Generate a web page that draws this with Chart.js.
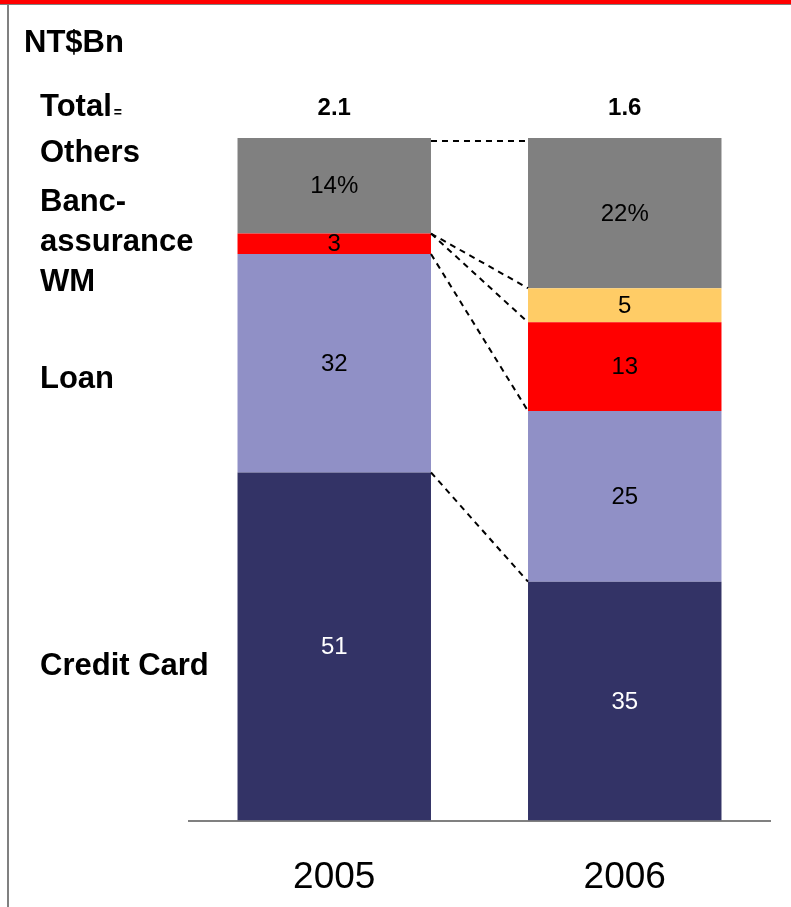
<!DOCTYPE html>
<html>
<head>
<meta charset="utf-8">
<script src="https://cdn.jsdelivr.net/npm/chart.js@4/dist/chart.umd.min.js"></script>
<style>
  html, body { margin: 0; padding: 0; background: #fff; }
  canvas { display: block; }
</style>
</head>
<body>
<canvas id="mChart1" width="791" height="907"></canvas>
<script>
// revenue mix, NT$Bn, shares in %
var years = ['2005', '2006'];
var totals = ['2.1', '1.6'];
var creditCard = [51, 35];
var loan = [32, 25];
var wm = [3, 13];
var bancassurance = [0, 5];
var others = [14, 22];

var font = '"Liberation Sans", Arial, sans-serif';

// frame, side captions and totals
var framePlugin = {
    id: 'frame',
    beforeDraw: function(chart) {
        var ctx = chart.ctx;
        ctx.save();
        ctx.fillStyle = '#ffffff';
        ctx.fillRect(0, 0, chart.width, chart.height);
        ctx.fillStyle = '#ff0000';
        ctx.fillRect(0, 0, chart.width, 4);
        ctx.fillStyle = '#808080';
        ctx.fillRect(0, 4, chart.width, 1);
        ctx.fillRect(7, 5, 2, chart.height - 5);
        ctx.restore();
    },
    afterDraw: function(chart) {
        var ctx = chart.ctx;
        ctx.save();
        ctx.fillStyle = '#000000';
        ctx.textAlign = 'left';
        ctx.textBaseline = 'alphabetic';
        ctx.font = 'bold 31px ' + font;
        ctx.fillText('NT$Bn', 24, 52);
        ctx.fillText('Total', 40, 116);
        var w = ctx.measureText('Total').width;
        ctx.fillText('Others', 40, 162);
        ctx.fillText('Banc-', 40, 211);
        ctx.fillText('assurance', 40, 251);
        ctx.fillText('WM', 40, 291);
        ctx.fillText('Loan', 40, 388);
        ctx.fillText('Credit Card', 40, 675);
        ctx.font = 'bold 14px ' + font;
        ctx.fillText('=', 42 + w, 117);

        // totals above each column
        var meta = chart.getDatasetMeta(0);
        ctx.font = 'bold 24px ' + font;
        ctx.textAlign = 'center';
        for (var i = 0; i < totals.length; i++) {
            ctx.fillText(totals[i], meta.data[i].x, 115);
        }
        ctx.restore();
    }
};

// dashed connectors between columns and the segment values
var segmentPlugin = {
    id: 'segments',
    afterDatasetsDraw: function(chart) {
        var ctx = chart.ctx;
        ctx.save();

        ctx.strokeStyle = '#000000';
        ctx.lineWidth = 2;
        ctx.setLineDash([6, 5]);
        chart.data.datasets.forEach(function(ds, i) {
            var bars = chart.getDatasetMeta(i).data;
            var a = bars[0], b = bars[1];
            ctx.beginPath();
            ctx.moveTo(a.x + a.width / 2, a.y + (i === 4 ? 3 : 0));
            ctx.lineTo(b.x - b.width / 2, b.y + (i === 4 ? 3 : 0));
            ctx.stroke();
        });
        ctx.setLineDash([]);

        ctx.font = '24px ' + font;
        ctx.textAlign = 'center';
        ctx.textBaseline = 'middle';
        chart.data.datasets.forEach(function(ds, i) {
            var bars = chart.getDatasetMeta(i).data;
            bars.forEach(function(bar, j) {
                var v = ds.data[j];
                if (!v) return;
                ctx.fillStyle = ds.labelColor;
                ctx.fillText(v + (ds.suffix || ''), bar.x, (bar.y + bar.base) / 2 + 1);
            });
        });
        ctx.restore();
    }
};

var ctx = document.getElementById('mChart1');
var myBarChart = new Chart(ctx, {
    type: 'bar',
    data: {
        labels: years,
        datasets: [
            { label: 'Credit Card', data: creditCard, backgroundColor: '#333366', labelColor: '#ffffff' },
            { label: 'Loan', data: loan, backgroundColor: '#9090c6', labelColor: '#000000' },
            { label: 'WM', data: wm, backgroundColor: '#ff0000', labelColor: '#000000' },
            { label: 'Bancassurance', data: bancassurance, backgroundColor: '#ffcc66', labelColor: '#000000' },
            { label: 'Others', data: others, backgroundColor: '#808080', labelColor: '#000000', suffix: '%' }
        ]
    },
    options: {
        responsive: false,
        animation: false,
        devicePixelRatio: 1,
        layout: { padding: { left: 189, right: 21, top: 138, bottom: -28 } },
        plugins: { legend: { display: false }, tooltip: { enabled: false } },
        datasets: { bar: { barPercentage: 0.666, categoryPercentage: 1, borderWidth: 0 } },
        scales: {
            x: {
                stacked: true,
                grid: { display: false, drawTicks: false },
                border: { display: true, color: '#808080', width: 2 },
                ticks: { color: '#000000', padding: 35, font: { family: font, size: 37 } }
            },
            y: { stacked: true, display: false, min: 0, max: 100 }
        }
    },
    plugins: [framePlugin, segmentPlugin]
});
</script>
</body>
</html>
